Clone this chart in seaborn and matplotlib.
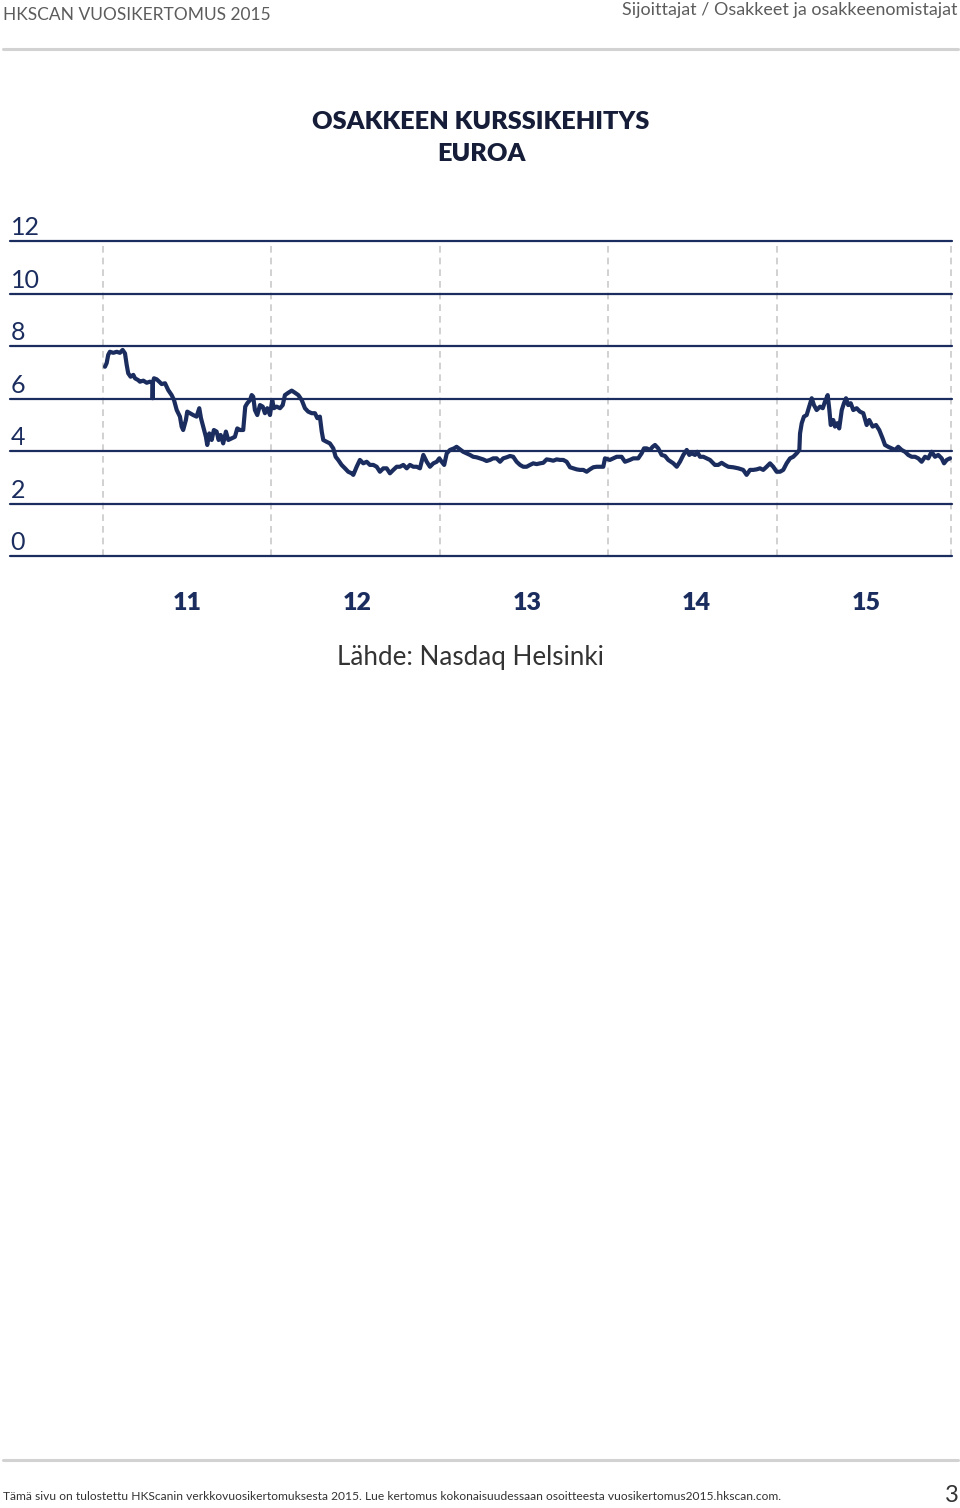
import numpy as np
import pandas as pd
import matplotlib
matplotlib.use("Agg")
import matplotlib.pyplot as plt
from matplotlib.lines import Line2D
import seaborn as sns

# ---------------- data ----------------
start_year = 2011
# time in years after 1 Jan 2011
t_years = [
    0.012, 0.022, 0.031, 0.041, 0.061, 0.081, 0.100, 0.116, 0.130, 0.140,
    0.149, 0.163, 0.179, 0.189, 0.208, 0.218, 0.238, 0.258, 0.277, 0.292,
    0.293, 0.295, 0.301, 0.317, 0.332, 0.346, 0.366, 0.385, 0.405, 0.419,
    0.435, 0.454, 0.464, 0.473, 0.489, 0.497, 0.513, 0.532, 0.552, 0.568,
    0.578, 0.591, 0.607, 0.615, 0.627, 0.641, 0.654, 0.670, 0.682, 0.694,
    0.709, 0.725, 0.739, 0.759, 0.778, 0.792, 0.808, 0.827, 0.839, 0.851,
    0.867, 0.877, 0.886, 0.896, 0.910, 0.926, 0.942, 0.955, 0.969, 0.985,
    0.998, 1.008, 1.024, 1.044, 1.060, 1.073, 1.093, 1.113, 1.132, 1.152,
    1.172, 1.191, 1.210, 1.231, 1.250, 1.264, 1.279, 1.290, 1.299, 1.319,
    1.338, 1.358, 1.372, 1.387, 1.407, 1.427, 1.446, 1.466, 1.476, 1.496,
    1.515, 1.535, 1.555, 1.574, 1.594, 1.614, 1.633, 1.653, 1.673, 1.692,
    1.712, 1.732, 1.751, 1.771, 1.791, 1.810, 1.830, 1.850, 1.869, 1.889,
    1.909, 1.928, 1.948, 1.968, 1.983, 1.997, 2.012, 2.027, 2.046, 2.070,
    2.085, 2.105, 2.124, 2.144, 2.164, 2.183, 2.203, 2.223, 2.242, 2.262,
    2.282, 2.301, 2.321, 2.341, 2.360, 2.380, 2.400, 2.419, 2.439, 2.459,
    2.478, 2.498, 2.518, 2.537, 2.557, 2.577, 2.596, 2.616, 2.636, 2.655,
    2.675, 2.695, 2.714, 2.734, 2.754, 2.773, 2.793, 2.812, 2.832, 2.852,
    2.871, 2.891, 2.911, 2.930, 2.950, 2.960, 2.989, 3.029, 3.058, 3.078,
    3.107, 3.127, 3.156, 3.176, 3.190, 3.206, 3.225, 3.241, 3.255, 3.274,
    3.294, 3.314, 3.333, 3.363, 3.383, 3.402, 3.422, 3.442, 3.457, 3.471,
    3.491, 3.504, 3.520, 3.540, 3.560, 3.579, 3.608, 3.628, 3.648, 3.667,
    3.687, 3.716, 3.746, 3.775, 3.795, 3.815, 3.834, 3.854, 3.874, 3.893,
    3.913, 3.933, 3.952, 3.972, 3.992, 4.011, 4.031, 4.051, 4.070, 4.090,
    4.106, 4.110, 4.120, 4.133, 4.149, 4.164, 4.179, 4.192, 4.208, 4.228,
    4.244, 4.257, 4.273, 4.283, 4.291, 4.306, 4.316, 4.330, 4.341, 4.356,
    4.369, 4.381, 4.394, 4.409, 4.424, 4.444, 4.463, 4.483, 4.503, 4.518,
    4.538, 4.558, 4.577, 4.597, 4.611, 4.630, 4.650, 4.670, 4.689, 4.709,
    4.729, 4.748, 4.768, 4.788, 4.807, 4.827, 4.847, 4.866, 4.886, 4.906,
    4.925, 4.945, 4.959, 4.975, 4.994,
]
# share price, EUR
price = [
    7.21, 7.35, 7.66, 7.78, 7.74, 7.78, 7.74, 7.85, 7.72, 7.28,
    6.96, 6.83, 6.90, 6.77, 6.70, 6.64, 6.68, 6.60, 6.64, 6.60,
    6.01, 6.63, 6.77, 6.73, 6.64, 6.55, 6.58, 6.32, 6.13, 5.94,
    5.56, 5.31, 4.93, 4.80, 5.18, 5.50, 5.44, 5.37, 5.31, 5.63,
    5.25, 4.93, 4.54, 4.23, 4.67, 4.42, 4.80, 4.74, 4.42, 4.61,
    4.29, 4.74, 4.42, 4.48, 4.54, 4.86, 4.80, 4.80, 5.69, 5.82,
    5.94, 6.13, 6.07, 5.56, 5.37, 5.75, 5.69, 5.44, 5.63, 5.37,
    5.94, 5.63, 5.69, 5.63, 5.75, 6.13, 6.22, 6.30, 6.22, 6.13,
    5.94, 5.63, 5.50, 5.44, 5.44, 5.25, 5.31, 4.74, 4.42, 4.35,
    4.29, 4.10, 3.78, 3.66, 3.47, 3.34, 3.21, 3.15, 3.09, 3.40,
    3.66, 3.53, 3.59, 3.47, 3.47, 3.40, 3.21, 3.34, 3.34, 3.15,
    3.28, 3.40, 3.40, 3.47, 3.34, 3.47, 3.40, 3.40, 3.34, 3.85,
    3.59, 3.40, 3.53, 3.59, 3.72, 3.59, 3.47, 3.91, 4.04, 4.10,
    4.16, 4.06, 3.97, 3.91, 3.85, 3.78, 3.76, 3.72, 3.68, 3.62,
    3.66, 3.72, 3.72, 3.59, 3.72, 3.76, 3.81, 3.78, 3.59, 3.47,
    3.40, 3.40, 3.47, 3.53, 3.50, 3.53, 3.55, 3.68, 3.66, 3.63,
    3.68, 3.66, 3.66, 3.59, 3.38, 3.34, 3.30, 3.28, 3.28, 3.21,
    3.30, 3.38, 3.40, 3.40, 3.40, 3.72, 3.66, 3.78, 3.78, 3.59,
    3.66, 3.72, 3.72, 3.91, 4.10, 4.10, 4.04, 4.16, 4.23, 4.10,
    3.85, 3.81, 3.66, 3.53, 3.40, 3.59, 3.85, 4.04, 3.85, 3.91,
    3.85, 3.97, 3.78, 3.78, 3.72, 3.66, 3.47, 3.47, 3.55, 3.47,
    3.40, 3.38, 3.34, 3.28, 3.09, 3.28, 3.28, 3.30, 3.34, 3.28,
    3.40, 3.53, 3.40, 3.21, 3.21, 3.28, 3.53, 3.72, 3.78, 3.91,
    4.04, 4.67, 5.06, 5.31, 5.37, 5.69, 6.01, 5.75, 5.56, 5.69,
    5.63, 5.88, 6.13, 5.56, 4.99, 5.18, 4.93, 5.06, 4.86, 5.56,
    5.82, 6.01, 5.75, 5.82, 5.56, 5.63, 5.50, 5.44, 4.99, 5.18,
    4.93, 4.99, 4.80, 4.48, 4.23, 4.16, 4.10, 4.04, 4.16, 4.04,
    3.97, 3.85, 3.78, 3.78, 3.72, 3.59, 3.78, 3.72, 3.97, 3.78,
    3.85, 3.72, 3.53, 3.66, 3.72,
]
y_levels = [0, 2, 4, 6, 8, 10, 12]
year_labels = ["11", "12", "13", "14", "15"]

title_lines = ["OSAKKEEN KURSSIKEHITYS", "EUROA"]
source_text = "Lähde: Nasdaq Helsinki"
header_left = "HKSCAN VUOSIKERTOMUS 2015"
header_right = "Sijoittajat / Osakkeet ja osakkeenomistajat"
footer_text = ("Tämä sivu on tulostettu HKScanin verkkovuosikertomuksesta 2015. "
               "Lue kertomus kokonaisuudessaan osoitteesta vuosikertomus2015.hkscan.com.")
page_no = "3"

# ---------------- style ----------------
NAVY = "#1b2d5e"
sns.set_style("white")
plt.rcParams["font.family"] = ["Lato", "DejaVu Sans"]

W, H = 960, 1508
fig = plt.figure(figsize=(W / 100, H / 100), dpi=100)

def fy(py):
    return 1 - py / H

ax = fig.add_axes([10 / W, fy(556), 942 / W, 315 / H])

df = pd.DataFrame({"year": start_year + np.array(t_years), "price": price})
sns.lineplot(data=df, x="year", y="price", ax=ax, color=NAVY, linewidth=3.0,
             zorder=5, estimator=None, sort=False)

ax.set_xlim(start_year - 0.548, start_year + 5.006)
ax.set_ylim(0, 12)
ax.set_axis_off()

# year boundaries (dashed) – the chart draws them slightly before each new year
for k in range(6):
    xb = start_year + k - (0.007 * k if k < 5 else 0.0)
    ax.axvline(xb, color="#c9c9c9", lw=1.2, ls=(0, (4, 3)), zorder=1)

for v in y_levels:
    ax.axhline(v, color=NAVY, lw=1.6, clip_on=False, zorder=3)
    ax.annotate(str(v), xy=(0, v), xycoords=("axes fraction", "data"),
                xytext=(0.5, 1.2), textcoords="offset points", ha="left", va="bottom",
                fontsize=18, color=NAVY, fontweight="normal")

for i, lbl in enumerate(year_labels):
    ax.annotate(lbl, xy=(start_year + i + 0.5, 0), xycoords="data",
                xytext=(0, -34), textcoords="offset points", ha="center", va="center",
                fontsize=18, color=NAVY, fontweight="heavy", annotation_clip=False)

# ---------------- page texts ----------------
fig.text(481 / W, fy(122), title_lines[0], ha="center", va="center",
         fontsize=18.2, fontweight="heavy", color="#161d38")
fig.text(481 / W, fy(154), title_lines[1], ha="center", va="center",
         fontsize=18.2, fontweight="heavy", color="#161d38")
fig.text(470 / W, fy(657), source_text, ha="center", va="center",
         fontsize=18.7, color="#333333", fontweight="normal")

fig.text(3 / W, fy(15), header_left, ha="left", va="center",
         fontsize=12.5, color="#5c5c5c")
fig.text(958 / W, fy(10), header_right, ha="right", va="center",
         fontsize=12.9, color="#5c5c5c")
fig.add_artist(Line2D([3 / W, 958 / W], [fy(49), fy(49)], color="#d2d2d2", lw=2.2))
fig.add_artist(Line2D([3 / W, 958 / W], [fy(1460), fy(1460)], color="#d2d2d2", lw=2.2))
fig.text(3 / W, fy(1497), footer_text, ha="left", va="center",
         fontsize=8.65, color="#333333")
fig.text(952 / W, fy(1496), page_no, ha="center", va="center",
         fontsize=17, color="#333333", fontweight="normal")

fig.savefig("out.png", dpi=100, facecolor="white")
